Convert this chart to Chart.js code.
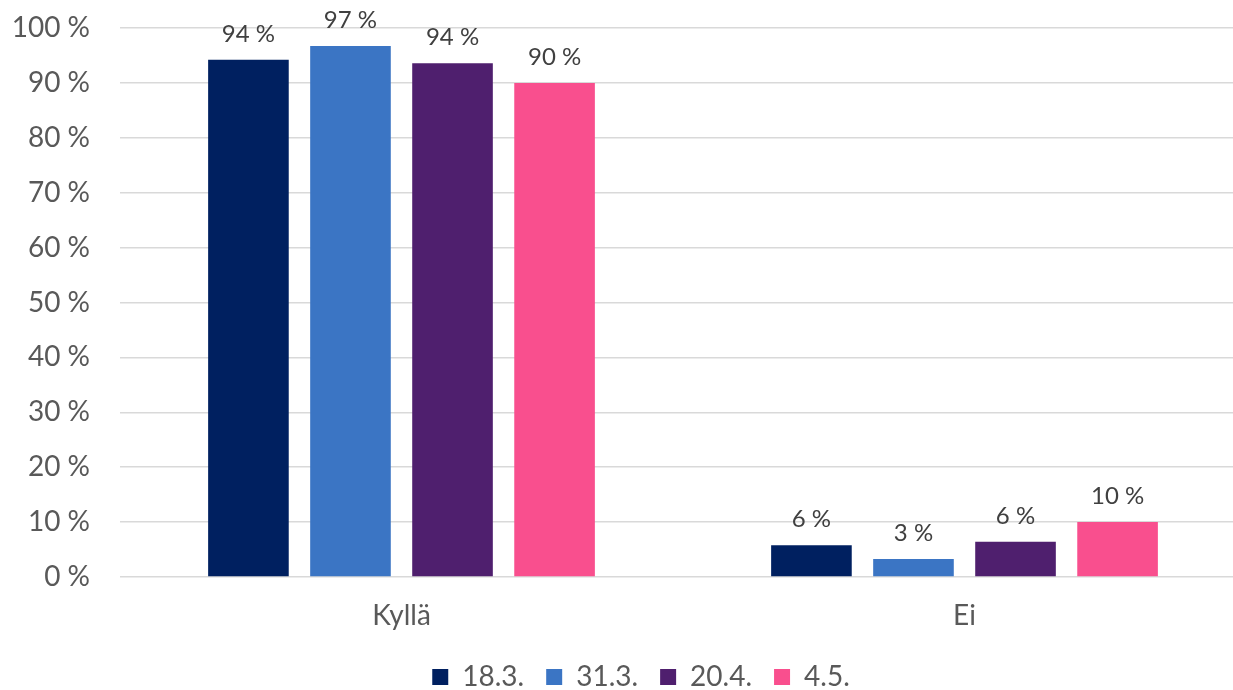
<!DOCTYPE html>
<html>
<head>
<meta charset="utf-8">
<script src="https://cdn.jsdelivr.net/npm/chart.js@4/dist/chart.umd.min.js"></script>
<style>
  html, body { margin: 0; padding: 0; background: #fff; overflow: hidden; }
  #wrap { width: 1246px; height: 690px; position: relative; }
</style>
</head>
<body>
<div id="wrap"><canvas id="chart"></canvas></div>
<script>
// chart data
const categories = ['Kyllä', 'Ei'];
const seriesNames = ['18.3.', '31.3.', '20.4.', '4.5.'];
const s1 = [94.2, 5.8];
const s2 = [96.7, 3.3];
const s3 = [93.6, 6.4];
const s4 = [90.0, 10.0];
const yTicks = [0, 10, 20, 30, 40, 50, 60, 70, 80, 90, 100];

const colors = ['#002060', '#3B75C4', '#4F1F6E', '#F94F8E'];
const font = 'Lato, "Open Sans", sans-serif';

// draws the "94 %" labels over each bar
const barLabels = {
  id: 'barLabels',
  afterLayout(chart) {
    // nudge the legend like the original
    const lg = chart.legend;
    lg.left += 18; lg.right += 18;
    lg.top += 11; lg.bottom += 11;
  },
  afterDatasetsDraw(chart) {
    const ctx = chart.ctx;
    ctx.save();
    ctx.font = '24px ' + font;
    ctx.fillStyle = '#404040';
    ctx.textAlign = 'center';
    ctx.textBaseline = 'middle';
    chart.data.datasets.forEach((ds, i) => {
      chart.getDatasetMeta(i).data.forEach((bar, j) => {
        ctx.fillText(Math.round(ds.data[j]) + ' %', bar.x, bar.y - 26);
      });
    });
    ctx.restore();
  }
};

const data = {
  labels: categories,
  datasets: [s1, s2, s3, s4].map((vals, i) => ({
    label: seriesNames[i],
    data: vals,
    backgroundColor: colors[i],
    barPercentage: 0.79,
    categoryPercentage: 0.725
  }))
};

new Chart(document.getElementById('chart'), {
  type: 'bar',
  data: data,
  plugins: [barLabels],
  options: {
    responsive: true,
    maintainAspectRatio: false,
    animation: false,
    layout: { padding: { top: 28, right: 0, left: 0, bottom: 0 } },
    plugins: {
      tooltip: { enabled: false },
      legend: {
        position: 'bottom',
        labels: {
          boxWidth: 16,
          boxHeight: 16,
          padding: 22,
          color: '#595959',
          font: { family: font, size: 28 }
        }
      }
    },
    scales: {
      x: {
        grid: { display: false },
        border: { display: false },
        ticks: {
          color: '#595959',
          padding: 14,
          font: { family: font, size: 28 }
        },
        afterFit(scale) { scale.height = 53; }
      },
      y: {
        min: 0,
        max: 100,
        afterBuildTicks(scale) { scale.ticks = yTicks.map(v => ({ value: v })); },
        grid: { color: '#d9d9d9', lineWidth: 1.5, drawTicks: false },
        border: { display: false },
        ticks: {
          color: '#595959',
          padding: 30,
          font: { family: font, size: 28 },
          callback: v => v + ' %'
        },
        afterFit(scale) {
          scale.width = 120;
          scale.paddingTop = 0;
          scale.paddingBottom = 0;
        }
      }
    }
  }
});
</script>
</body>
</html>
